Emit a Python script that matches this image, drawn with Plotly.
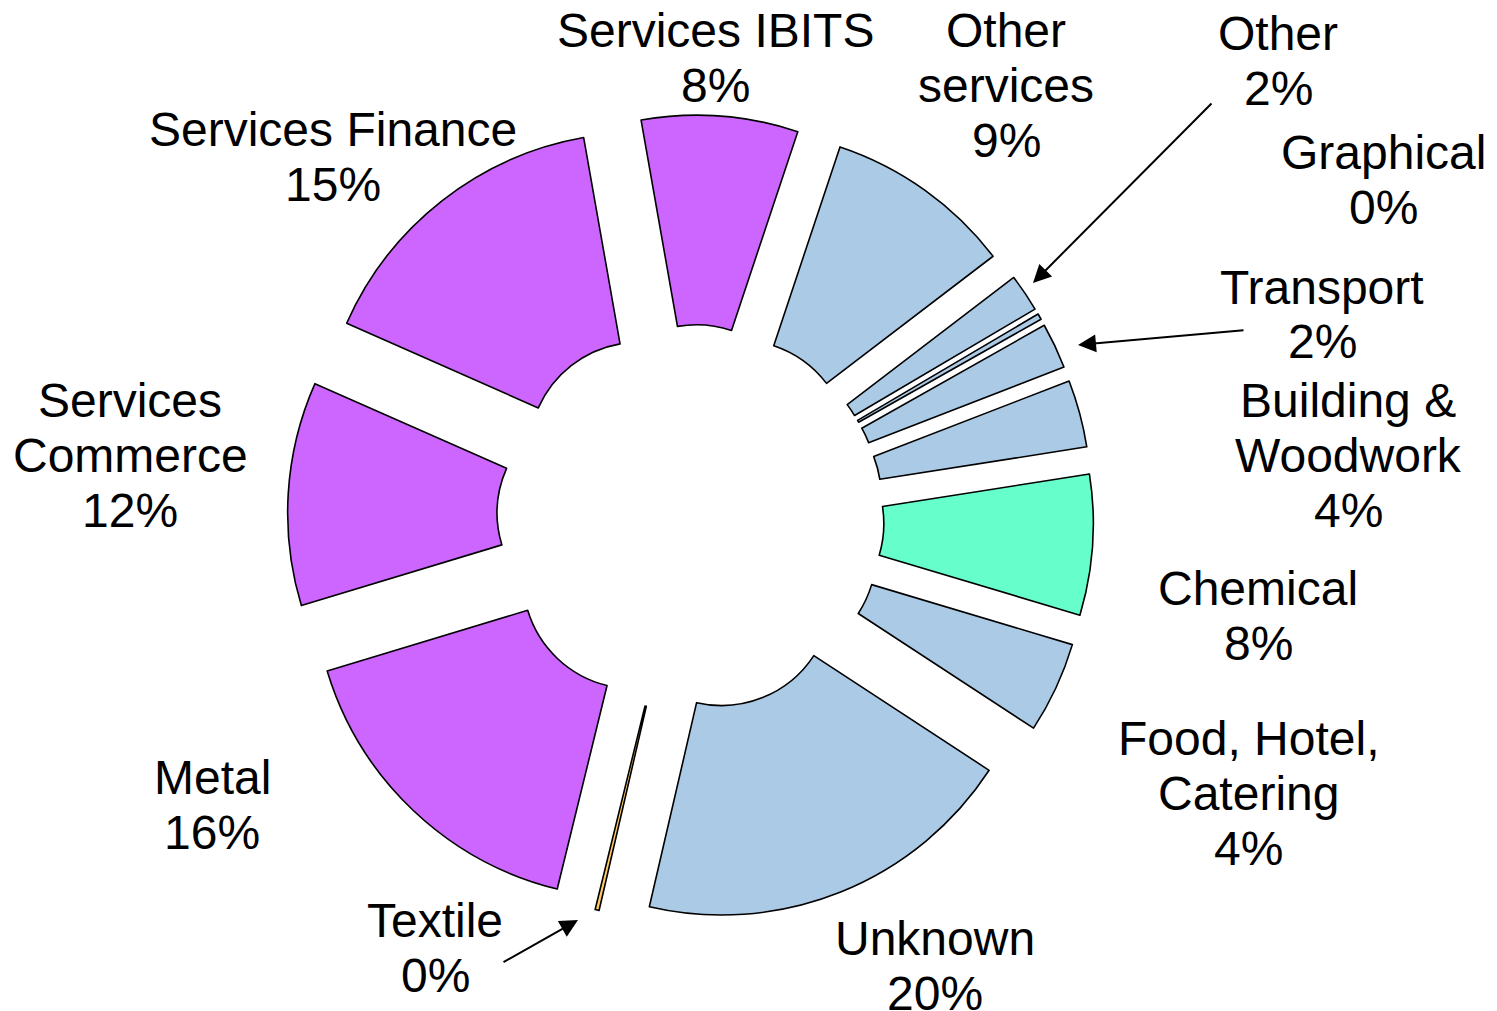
import plotly.graph_objects as go

W, H = 1497, 1011
OFF = 8  # the page body margin shifts the figure by 8px

# slices, clockwise from the top
sectors = ["Services IBITS", "Other services", "Other", "Graphical", "Transport",
           "Building & Woodwork", "Chemical", "Food, Hotel, Catering", "Unknown",
           "Textile", "Metal", "Services Commerce", "Services Finance"]
shares = [7.9, 9.5, 1.9, 0.3, 2.3, 3.4, 7.1, 4.6, 19.4, 0.2, 16.5, 11.3, 15.6]
pct_labels = ["8%", "9%", "2%", "0%", "2%", "4%", "8%", "4%", "20%", "0%", "16%", "12%", "15%"]

purple, blue, green, orange = "#CC66FF", "#ABCAE6", "#66FFCC", "#FFCC66"
colors = [purple, blue, blue, blue, blue, blue, green, blue, blue, orange, purple, purple, purple]

# how the labels wrap, and where each label block sits (pixel x centre, first line y)
wrap = {"Other services": ["Other", "services"],
        "Building & Woodwork": ["Building &", "Woodwork"],
        "Food, Hotel, Catering": ["Food, Hotel,", "Catering"],
        "Services Commerce": ["Services", "Commerce"]}
label_pos = {"Services IBITS": (715, 30), "Other services": (1006, 30), "Other": (1278, 33),
             "Graphical": (1383, 152), "Transport": (1322, 287),
             "Building & Woodwork": (1348, 400), "Chemical": (1258, 588),
             "Food, Hotel, Catering": (1248, 738), "Unknown": (935, 938),
             "Textile": (435, 920), "Metal": (212, 777),
             "Services Commerce": (130, 400), "Services Finance": (333, 130)}
line_step = 55
# arrows: tip and tail in pixels
arrows = {"Other": ((1033, 283), (1213, 102)),
          "Transport": ((1078, 345), (1245, 330)),
          "Textile": ((578, 920), (502, 963))}


def px2paper(px, py):
    return (px - OFF) / W, 1 - (py - OFF) / H


cx, cy, half = 690.5, 518, 403
x0, y1 = px2paper(cx - half, cy - half)
x1, y0 = px2paper(cx + half, cy + half)

fig = go.Figure(go.Pie(
    labels=sectors, values=shares, sort=False, direction="clockwise", rotation=-10,
    hole=0.345, pull=[0.26] * len(sectors), textinfo="none",
    marker=dict(colors=colors, line=dict(color="black", width=1.6)),
    domain=dict(x=[x0, x1], y=[y0, y1]),
    showlegend=False, hoverinfo="label+percent",
))

font = dict(family="Liberation Sans, Arial, sans-serif", size=48, color="black")
annotations = []
for name, pct in zip(sectors, pct_labels):
    lines = wrap.get(name, [name]) + [pct]
    px, py = label_pos[name]
    for i, line in enumerate(lines):
        ax_, ay_ = px2paper(px, py + i * line_step)
        annotations.append(dict(x=ax_, y=ay_, xref="paper", yref="paper",
                                text=line, showarrow=False, font=font,
                                xanchor="center", yanchor="middle"))
for name, (tip, tail) in arrows.items():
    tx, ty = px2paper(*tip)
    annotations.append(dict(x=tx, y=ty, xref="paper", yref="paper",
                            ax=tail[0] - tip[0], ay=tail[1] - tip[1], text="",
                            showarrow=True, arrowhead=2, arrowsize=1.8, arrowwidth=2,
                            arrowcolor="black", standoff=0))

fig.update_layout(width=W, height=H, margin=dict(l=0, r=0, t=0, b=0),
                  paper_bgcolor="white", plot_bgcolor="white", annotations=annotations)

fig.write_html("out.html")
